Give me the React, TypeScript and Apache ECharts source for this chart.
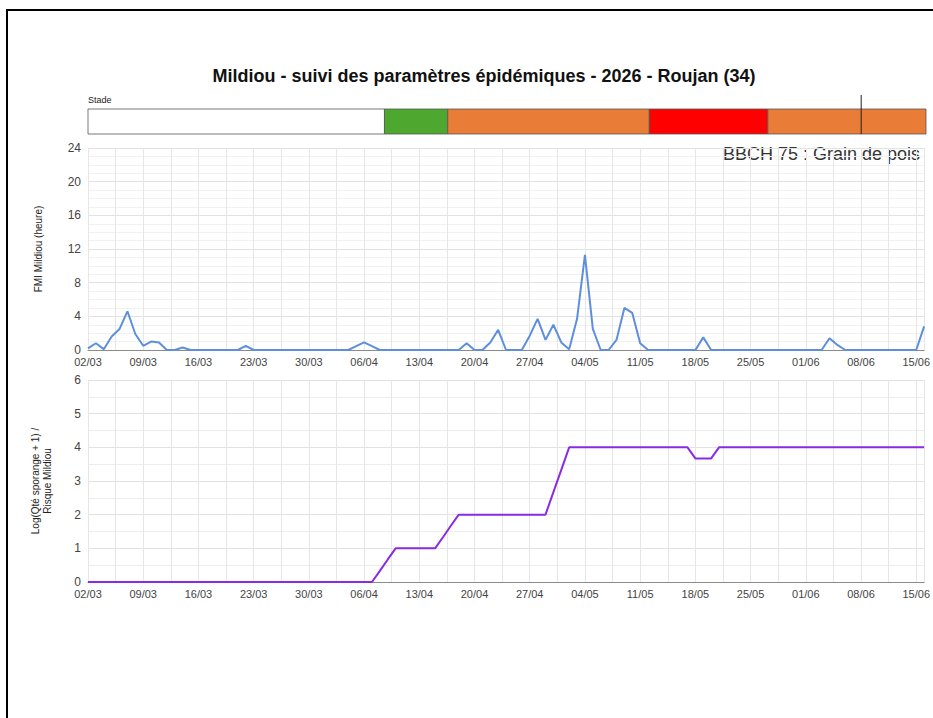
import React, { useEffect, useRef } from "react";
import * as echarts from "echarts";

// Day index 0 = 02/03/2026, last = 16/06/2026 (106)
const tickLabels = ["02/03", "09/03", "16/03", "23/03", "30/03", "06/04", "13/04", "20/04", "27/04", "04/05", "11/05", "18/05", "25/05", "01/06", "08/06", "15/06"];

const fmiValues = [
  0.2, 0.8, 0.1, 1.6, 2.5, 4.6, 1.9, 0.5, 1.0, 0.9,
  0, 0, 0.3, 0, 0, 0, 0, 0, 0, 0,
  0.5, 0, 0, 0, 0, 0, 0, 0, 0, 0,
  0, 0, 0, 0, 0.45, 0.9, 0.45, 0, 0, 0,
  0, 0, 0, 0, 0, 0, 0, 0, 0.8, 0,
  0, 0.9, 2.4, 0, 0, 0, 1.7, 3.7, 1.2, 3.0,
  0.9, 0.1, 3.7, 11.3, 2.5, 0, 0, 1.2, 5.0, 4.4,
  0.8, 0, 0, 0, 0, 0, 0, 0, 1.5, 0,
  0, 0, 0, 0, 0, 0, 0, 0, 0, 0,
  0, 0, 0, 0, 1.4, 0.6, 0, 0, 0, 0,
  0, 0, 0, 0, 0, 0, 2.8,
];

const risqueValues = [
  0, 0, 0, 0, 0, 0, 0, 0, 0, 0,
  0, 0, 0, 0, 0, 0, 0, 0, 0, 0,
  0, 0, 0, 0, 0, 0, 0, 0, 0, 0,
  0, 0, 0, 0, 0, 0, 0, 0.33, 0.67, 1,
  1, 1, 1, 1, 1, 1.33, 1.67, 2, 2, 2,
  2, 2, 2, 2, 2, 2, 2, 2, 2, 2.67,
  3.33, 4, 4, 4, 4, 4, 4, 4, 4, 4,
  4, 4, 4, 4, 4, 4, 4, 3.67, 3.67, 3.67,
  4, 4, 4, 4, 4, 4, 4, 4, 4, 4,
  4, 4, 4, 4, 4, 4, 4, 4, 4, 4,
  4, 4, 4, 4, 4, 4, 4,
];

const stageStarts = [0, 37.5, 45.5, 71, 86];
const stageEnds = [37.5, 45.5, 71, 86, 106];
const stageColors = ["#ffffff", "#4ea72e", "#e97c37", "#ff0000", "#e97c37"];
const todayMarker = [97.8];

const FONT = "'Liberation Sans', Arial, sans-serif";

export default function App() {
  const ref = useRef<HTMLDivElement>(null);
  useEffect(() => {
    if (!ref.current) return;
    const chart = echarts.init(ref.current, undefined, { renderer: "svg" });
    const dayLabel = (v: number) => {
      const k = v / 7;
      const r = Math.round(k);
      return Math.abs(k - r) < 1e-6 && r >= 0 && r < tickLabels.length ? tickLabels[r] : "";
    };
    const dateAxis = (gridIndex: number) => ({
      type: "value",
      gridIndex,
      min: 0,
      max: 106,
      interval: 3.5,
      axisLine: { show: true, onZero: false, lineStyle: { color: "#8a8a8a", width: 1 } },
      axisTick: { show: false },
      axisLabel: { formatter: dayLabel, color: "#444", fontSize: 11, margin: 6, lineHeight: 12, fontFamily: FONT, hideOverlap: false },
      splitLine: { show: true, lineStyle: { color: "#e6e6e6", width: 1 } },
    });
    const fmiData = fmiValues.map((v, i) => [i, v]);
    const risqueData = risqueValues.map((v, i) => [i, v]);
    const stageData = stageStarts.map((s, i) => [s, stageEnds[i], i]);

    chart.setOption({
      animation: false,
      backgroundColor: "#ffffff",
      textStyle: { fontFamily: FONT },
      title: {
        text: "Mildiou - suivi des paramètres épidémiques - 2026 - Roujan (34)",
        left: 479,
        top: 62,
        textAlign: "center",
        textStyle: { fontSize: 18, fontWeight: "bold", color: "#111", fontFamily: FONT },
      },
      graphic: [
        { type: "text", left: 88, top: 95, style: { text: "Stade", fontSize: 9, fill: "#222", fontFamily: FONT } },
        { type: "text", right: 13, top: 145, style: { text: "BBCH 75 : Grain de pois", fontSize: 18, fill: "#333", fontFamily: FONT } },
      ],
      grid: [
        { left: 88, right: 7, top: 109, height: 25 },
        { left: 88, right: 7, top: 148, height: 202 },
        { left: 88, right: 7, top: 380, height: 202 },
      ],
      xAxis: [
        { type: "value", gridIndex: 0, min: 0, max: 106, show: false },
        dateAxis(1),
        dateAxis(2),
      ],
      yAxis: [
        { type: "value", gridIndex: 0, min: 0, max: 1, show: false },
        {
          type: "value",
          gridIndex: 1,
          min: 0,
          max: 24,
          interval: 4,
          name: "FMI Mildiou (heure)",
          nameLocation: "middle",
          nameGap: 45,
          nameTextStyle: { fontSize: 10, color: "#222", fontFamily: FONT },
          axisLine: { show: false },
          axisTick: { show: false },
          axisLabel: { color: "#444", fontSize: 12, margin: 7, lineHeight: 12, fontFamily: FONT },
          splitLine: { show: true, lineStyle: { color: "#e2e2e2" } },
          minorTick: { show: false, splitNumber: 4 },
          minorSplitLine: { show: true, lineStyle: { color: "#f1f1f1" } },
        },
        {
          type: "value",
          gridIndex: 2,
          min: 0,
          max: 6,
          interval: 1,
          name: "Log(Qté sporange + 1) /\nRisque Mildiou",
          nameLocation: "middle",
          nameGap: 35,
          nameTextStyle: { fontSize: 10, color: "#222", fontFamily: FONT, lineHeight: 12 },
          axisLine: { show: false },
          axisTick: { show: false },
          axisLabel: { color: "#444", fontSize: 12, margin: 7, lineHeight: 12, fontFamily: FONT },
          splitLine: { show: true, lineStyle: { color: "#e2e2e2" } },
          minorTick: { show: false, splitNumber: 2 },
          minorSplitLine: { show: true, lineStyle: { color: "#ededed" } },
        },
      ],
      series: [
        {
          type: "custom",
          xAxisIndex: 0,
          yAxisIndex: 0,
          data: stageData,
          renderItem: (params: any, api: any) => {
            const p0 = api.coord([api.value(0), 1]);
            const p1 = api.coord([api.value(1), 0]);
            return {
              type: "rect",
              shape: { x: p0[0], y: p0[1], width: p1[0] - p0[0], height: p1[1] - p0[1] },
              style: { fill: stageColors[params.dataIndex], stroke: "#555", lineWidth: 0.8 },
            };
          },
        },
        {
          type: "custom",
          xAxisIndex: 0,
          yAxisIndex: 0,
          clip: false,
          data: todayMarker.map((v) => [v]),
          renderItem: (_params: any, api: any) => {
            const a = api.coord([api.value(0), 1.56]);
            const b = api.coord([api.value(0), 0]);
            return {
              type: "line",
              shape: { x1: a[0], y1: a[1], x2: b[0], y2: b[1] },
              style: { stroke: "#222", lineWidth: 1 },
            };
          },
        },
        {
          type: "line",
          xAxisIndex: 1,
          yAxisIndex: 1,
          data: fmiData,
          showSymbol: false,
          lineStyle: { color: "#5e8fdc", width: 2 },
          itemStyle: { color: "#5e8fdc" },
        },
        {
          type: "line",
          xAxisIndex: 2,
          yAxisIndex: 2,
          data: risqueData,
          showSymbol: false,
          lineStyle: { color: "#8a2be2", width: 2 },
          itemStyle: { color: "#8a2be2" },
        },
      ],
    });
    return () => chart.dispose();
  }, []);

  return (
    <>
      <div ref={ref} style={{ position: "absolute", left: 0, top: 0, width: 933, height: 718 }} />
      <div
        style={{
          position: "absolute",
          left: 6,
          top: 9,
          width: 927,
          height: 709,
          borderLeft: "2px solid #000",
          borderTop: "2px solid #000",
          boxSizing: "border-box",
          pointerEvents: "none",
        }}
      />
    </>
  );
}
